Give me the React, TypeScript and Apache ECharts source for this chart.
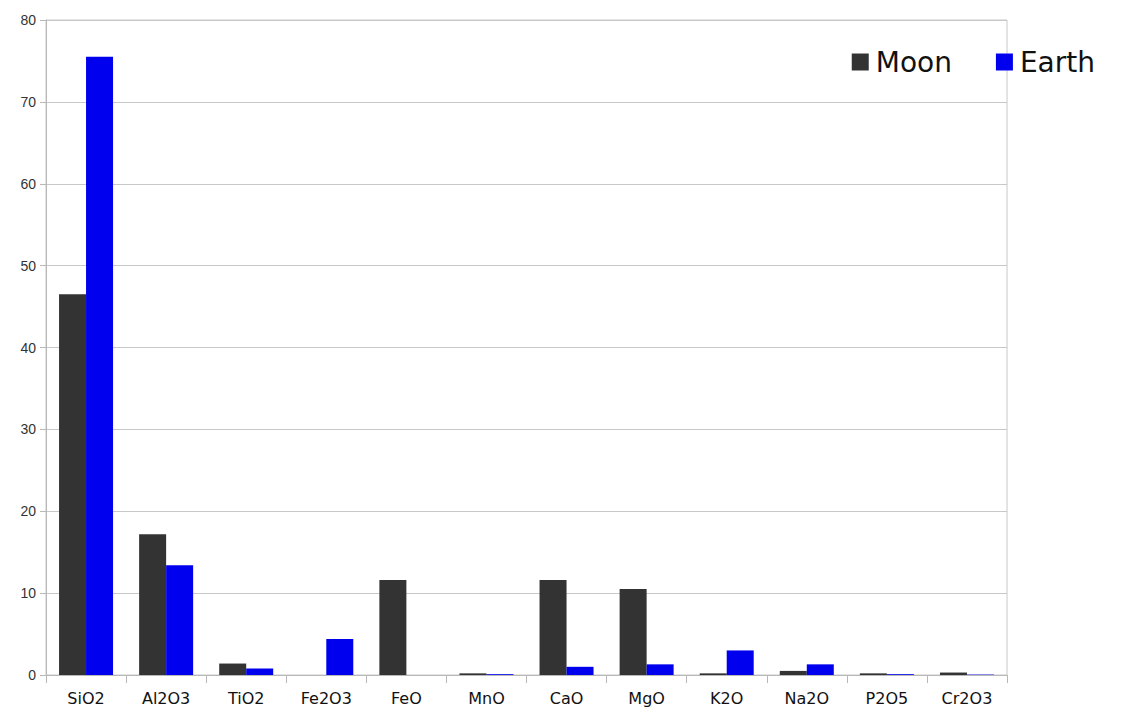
import React, { useEffect, useRef } from "react";
import * as echarts from "echarts";

const categories = ["SiO2", "Al2O3", "TiO2", "Fe2O3", "FeO", "MnO", "CaO", "MgO", "K2O", "Na2O", "P2O5", "Cr2O3"];
const moon = [46.5, 17.2, 1.4, 0, 11.6, 0.2, 11.6, 10.5, 0.2, 0.5, 0.2, 0.3];
const earth = [75.5, 13.4, 0.8, 4.4, 0, 0.1, 1.0, 1.3, 3.0, 1.3, 0.1, 0.05];
const yTicks = [0, 10, 20, 30, 40, 50, 60, 70, 80];

export default function App() {
  const ref = useRef<HTMLDivElement>(null);
  useEffect(() => {
    const chart = echarts.init(ref.current!, null, { renderer: "svg" });
    chart.setOption({
      animation: false,
      backgroundColor: "#ffffff",
      grid: { left: 46, right: 129, top: 20, bottom: 42, show: true, borderColor: "#c8c8c8", borderWidth: 1 },
      legend: {
        right: 36,
        top: 43,
        itemWidth: 17,
        itemHeight: 17,
        itemGap: 44,
        icon: "rect",
        textStyle: { fontSize: 28, color: "#111", fontFamily: "DejaVu Sans", padding: [0, 0, 0, 2] },
        data: ["Moon", "Earth"],
      },
      xAxis: {
        type: "category",
        data: categories,
        axisLine: { lineStyle: { color: "#b8b8b8" } },
        axisTick: { show: true, length: 8, lineStyle: { color: "#b8b8b8" } },
        axisLabel: { fontSize: 16, color: "#111", fontFamily: "DejaVu Sans", margin: 15 },
      },
      yAxis: {
        type: "value",
        min: 0,
        max: 80,
        interval: 10,
        axisLine: { show: true, lineStyle: { color: "#b8b8b8" } },
        axisTick: { show: true, length: 6, lineStyle: { color: "#b8b8b8" } },
        splitLine: { lineStyle: { color: "#c8c8c8" } },
        axisLabel: {
          fontSize: 14,
          color: "#333",
          fontFamily: "Liberation Sans",
          margin: 10,
          formatter: (v: number) => (yTicks.includes(v) ? String(v) : ""),
        },
      },
      series: [
        { name: "Moon", type: "bar", data: moon, barWidth: 27, barGap: "0%", itemStyle: { color: "#333333" } },
        { name: "Earth", type: "bar", data: earth, barWidth: 27, itemStyle: { color: "#0000ee" } },
      ],
    });
    return () => chart.dispose();
  }, []);
  return <div ref={ref} style={{ width: 1136, height: 717, position: "absolute", left: 0, top: 0 }} />;
}
